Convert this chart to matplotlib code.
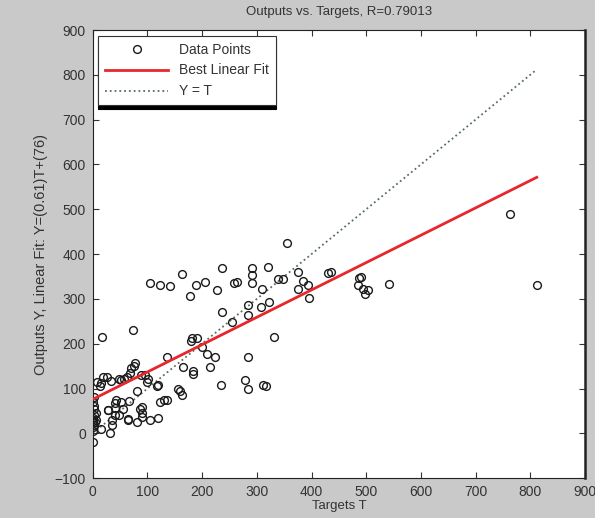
import matplotlib
matplotlib.use("Agg")
import matplotlib.pyplot as plt
import numpy as np

plt.rcParams["font.family"] = ["Liberation Sans", "DejaVu Sans"]

# targets (T) and network outputs (Y)
targets = [
    0, 0, 0, 0, 0, 0, 2, 2, 3, 0, 3, 5, 4, 2, 6,
    7, 13, 17, 19, 26, 31, 28, 35, 35, 43, 41, 47, 47, 56, 57,
    62, 64, 67, 70, 74, 77, 75, 80, 80, 86, 90, 90, 90, 88, 96,
    99, 101, 105, 105, 117, 119, 120, 123, 123, 130, 135, 136, 142, 156, 160,
    163, 163, 165, 178, 180, 182, 184, 184, 188, 190, 206, 209, 215, 224, 200,
    227, 235, 237, 237, 255, 258, 264, 279, 283, 283, 283, 283, 292, 292, 292,
    307, 310, 312, 316, 320, 322, 331, 338, 347, 355, 375, 375, 384, 395, 393,
    430, 436, 487, 491, 494, 503, 485, 498, 541, 763, 812,
    15, 33, 52, 40, 51, 28, 40, 64, 68, 15,
]
outputs = [
    -20, 5, 15, 22, 28, 35, 40, 55, 62, 70, 80, 45, 25, 18, 30,
    114, 105, 215, 125, 125, 0, 52, 29, 18, 74, 56, 122, 41, 55, 122,
    125, 33, 72, 145, 230, 158, 150, 95, 25, 55, 58, 45, 36, 130, 130,
    114, 122, 29, 335, 105, 35, 107, 70, 330, 74, 74, 170, 328, 100, 95,
    85, 355, 148, 306, 207, 212, 140, 132, 330, 212, 337, 178, 148, 170, 192,
    319, 107, 368, 270, 248, 335, 337, 118, 100, 170, 263, 287, 368, 353, 335,
    281, 323, 107, 105, 371, 292, 214, 345, 345, 425, 360, 323, 341, 301, 330,
    357, 360, 346, 348, 323, 319, 330, 310, 333, 490, 330,
    112, 116, 118, 67, 69, 51, 40, 29, 135, 10,
]

fit_slope = 0.61
fit_intercept = 76
r_value = 0.79013

fig = plt.figure(figsize=(5.95, 5.18), dpi=100, facecolor="#c9c9c9")
ax = fig.add_axes([0.156, 0.077, 0.827, 0.865])

t = np.array(targets, dtype=float)
y = np.array(outputs, dtype=float)
ax.plot(t, y, "o", mfc="none", mec="#1a1a1a", mew=1.0, ms=5.6, label="Data Points", zorder=3)

tline = np.array([t.min(), t.max()])
ax.plot(tline, fit_slope * tline + fit_intercept, color="#e8262e", lw=2, label="Best Linear Fit", zorder=4)
ax.plot(tline, tline, ":", color="#55705a", lw=1.3, label="Y = T", zorder=2)

ax.set_xlim(0, 900)
ax.set_ylim(-100, 900)
ax.set_xticks(range(0, 901, 100))
ax.set_yticks(range(-100, 901, 100))
ax.tick_params(direction="in", length=4, labelsize=10, colors="#333333", top=True, right=True, pad=5)
for s in ax.spines.values():
    s.set_color("#222222")
ax.spines["right"].set_linewidth(1.8)

ax.set_title(f"Outputs vs. Targets, R={r_value}", fontsize=9.5, color="#333333", pad=11)
ax.set_xlabel("Targets T", fontsize=9.5, color="#333333", labelpad=1)
ax.set_ylabel(f"Outputs Y, Linear Fit: Y=({fit_slope})T+({fit_intercept})", fontsize=10.5, color="#333333", labelpad=5)

leg = ax.legend(loc="upper left", fontsize=10, frameon=True, fancybox=False, borderaxespad=0.4,
                handlelength=4.5, labelcolor="#333333", borderpad=0.5,
                shadow={"color": "black", "alpha": 1, "ox": 0, "oy": -2.5})
leg.get_frame().set_edgecolor("#333333")
leg.get_frame().set_linewidth(0.8)

fig.savefig("out.png", dpi=100, facecolor=fig.get_facecolor())
